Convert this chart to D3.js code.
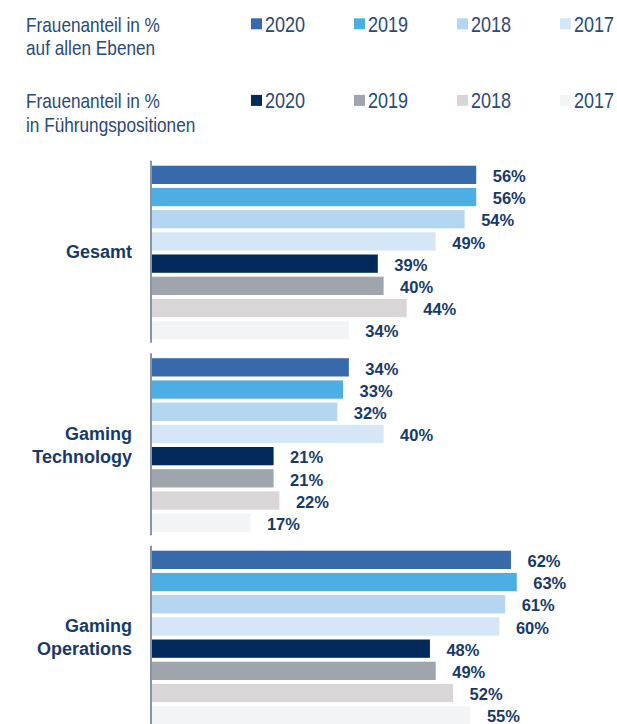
<!DOCTYPE html>
<html>
<head>
<meta charset="utf-8">
<script src="https://cdn.jsdelivr.net/npm/d3@7"></script>
<style>
  body { margin: 0; background: #fff; }
  svg { display: block; }
</style>
</head>
<body>
<div id="chart"></div>
<script>
// data
const categories = ["Gesamt", "Gaming Technology", "Gaming Operations"];
const categoryLines = [["Gesamt"], ["Gaming", "Technology"], ["Gaming", "Operations"]];
const years = ["2020", "2019", "2018", "2017"];
const legendTitles = [["Frauenanteil in %", "auf allen Ebenen"], ["Frauenanteil in %", "in Führungspositionen"]];

const ebenen2020 = [56, 34, 62];
const ebenen2019 = [56, 33, 63];
const ebenen2018 = [54, 32, 61];
const ebenen2017 = [49, 40, 60];
const fuehrung2020 = [39, 21, 48];
const fuehrung2019 = [40, 21, 49];
const fuehrung2018 = [44, 22, 52];
const fuehrung2017 = [34, 17, 55];

const seriesKeys = ["e2020", "e2019", "e2018", "e2017", "f2020", "f2019", "f2018", "f2017"];
const seriesValues = [ebenen2020, ebenen2019, ebenen2018, ebenen2017,
                      fuehrung2020, fuehrung2019, fuehrung2018, fuehrung2017];

const colors = ["#386aab", "#4daee3", "#b4d6f1", "#d5e7f7",
                "#012a5a", "#9ea5ad", "#dad6d7", "#f3f4f6"];

const W = 617, H = 724;
const textColor = "#173a69";
const legendColor = "#2a4a77";
const narrow = 0.82; // condensed look, the fonts here have no narrow cut

const svg = d3.select("#chart").append("svg")
    .attr("width", W)
    .attr("height", H);

// Legend
const legendRowY = [31.7, 108.3];
const lx = d3.scalePoint().domain(years).range([251, 560]);

legendTitles.forEach((lines, r) => {
  const t = svg.append("text")
    .attr("transform", `translate(26,${legendRowY[r]}) scale(${narrow},1)`)
    .style("font-family", "'Liberation Sans', Arial, sans-serif")
    .style("font-size", "21px")
    .style("fill", legendColor);
  lines.forEach((l, i) => {
    t.append("tspan").attr("x", 0).attr("dy", i === 0 ? 0 : 23.3).text(l);
  });

  years.forEach((yr, i) => {
    const g = svg.append("g")
      .attr("transform", `translate(${lx(yr)},${legendRowY[r]})`);
    g.append("rect")
      .attr("x", 0)
      .attr("y", -13.4)
      .attr("width", 11)
      .attr("height", 11)
      .attr("fill", colors[r * 4 + i]);
    g.append("text")
      .attr("transform", `translate(14,0) scale(${narrow},1)`)
      .style("font-family", "'Liberation Sans', Arial, sans-serif")
      .style("font-size", "22px")
      .style("fill", legendColor)
      .text(yr);
  });
});

// Scales
const x = d3.scaleLinear().domain([0, 60]).range([152, 152 + 60 * 5.79]);

const groupStep = 192.5;
const yGroup = d3.scaleBand()
  .domain(categories)
  .range([163.75, 163.75 + groupStep * categories.length]);

const innerH = 177.6;
const ySeries = d3.scaleBand()
  .domain(seriesKeys)
  .range([0, innerH])
  .paddingInner(0.176)
  .paddingOuter(0.088);

const groups = svg.selectAll("g.group")
  .data(categories)
  .join("g")
    .attr("class", "group")
    .attr("transform", d => `translate(0,${yGroup(d)})`);

// Bars
groups.each(function(cat, ci) {
  const g = d3.select(this);
  const rows = seriesKeys.map((k, si) => ({ key: k, value: seriesValues[si][ci], color: colors[si] }));

  g.selectAll("rect.bar")
    .data(rows)
    .join("rect")
      .attr("class", "bar")
      .attr("x", x(0))
      .attr("y", d => ySeries(d.key))
      .attr("width", d => x(d.value) - x(0))
      .attr("height", ySeries.bandwidth())
      .attr("fill", d => d.color);

  g.selectAll("text.val")
    .data(rows)
    .join("text")
      .attr("class", "val")
      .attr("x", d => x(d.value) + 16.5)
      .attr("y", d => ySeries(d.key) + 16.3)
      .style("font-family", "'Liberation Sans', Arial, sans-serif")
      .style("font-weight", "bold")
      .style("font-size", "16.5px")
      .style("fill", textColor)
      .text(d => d.value + "%");

  // axis line
  g.append("line")
    .attr("x1", 151)
    .attr("x2", 151)
    .attr("y1", -3)
    .attr("y2", innerH + 1.5)
    .attr("stroke", "#6a7a94")
    .attr("stroke-width", 1.6);

  // category label
  const lines = categoryLines[ci];
  const mid = innerH / 2;
  const lab = g.append("text")
    .attr("text-anchor", "end")
    .attr("y", lines.length === 1 ? mid + 5.5 : mid - 5.5)
    .style("font-family", "'Liberation Sans', Arial, sans-serif")
    .style("font-weight", "bold")
    .style("font-size", "18px")
    .style("fill", textColor);
  lines.forEach((l, i) => {
    lab.append("tspan").attr("x", 132).attr("dy", i === 0 ? 0 : 23).text(l);
  });
});
</script>
</body>
</html>
